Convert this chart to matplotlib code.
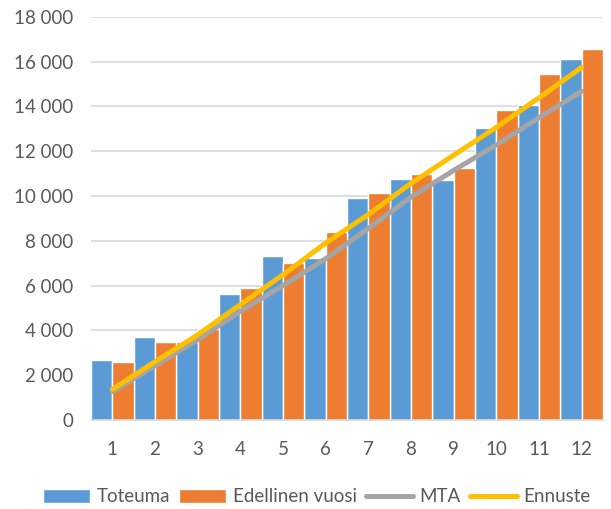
import numpy as np
import matplotlib
matplotlib.use("Agg")
from matplotlib import pyplot as plt
from matplotlib.ticker import FuncFormatter

months = [1, 2, 3, 4, 5, 6, 7, 8, 9, 10, 11, 12]
toteuma = [2670, 3710, 3490, 5640, 7320, 7250, 9890, 10770, 10700, 13040, 14070, 16090]
edellinen = [2590, 3480, 4050, 5880, 7010, 8380, 10150, 10960, 11260, 13850, 15450, 16560]
mta = [1260, 2420, 3580, 4850, 6000, 7200, 8550, 9950, 11140, 12280, 13490, 14670]
ennuste = [1370, 2600, 3800, 5150, 6480, 7900, 9170, 10560, 11820, 13060, 14380, 15740]
yticks = [0, 2000, 4000, 6000, 8000, 10000, 12000, 14000, 16000, 18000]

plt.rcParams['font.family'] = ['Lato', 'DejaVu Sans']
text_color = '#595959'
grid_color = '#d9d9d9'

fig = plt.figure(figsize=(6.11, 5.09), dpi=100)
ax = fig.add_axes([91 / 611, 89 / 509, 512 / 611, 403.3 / 509])

x = np.array(months)
w = 0.5
b1 = ax.bar(x - w / 2, toteuma, width=w, color='#5B9BD5', edgecolor='white', linewidth=1, label='Toteuma', zorder=2)
b2 = ax.bar(x + w / 2, edellinen, width=w, color='#ED7D31', edgecolor='white', linewidth=1, label='Edellinen vuosi', zorder=2)
l1, = ax.plot(x, mta, color='#A5A5A5', linewidth=3.6, label='MTA', zorder=3, solid_capstyle='round')
l2, = ax.plot(x, ennuste, color='#FFC000', linewidth=3.6, label='Ennuste', zorder=4, solid_capstyle='round')

ax.set_xlim(0.5, 12.5)
ax.set_ylim(0, 18000)
ax.set_xticks(months)
ax.set_yticks(yticks)
ax.yaxis.set_major_formatter(FuncFormatter(lambda v, p: f"{int(v):,}".replace(",", " ")))
ax.tick_params(axis='both', length=0, labelsize=13.5, colors=text_color)
ax.tick_params(axis='x', pad=15)
ax.tick_params(axis='y', pad=13)
ax.grid(axis='y', color=grid_color, linewidth=1.2, zorder=0)
ax.set_axisbelow(True)
for s in ['top', 'right', 'left']:
    ax.spines[s].set_visible(False)
ax.spines['bottom'].set_color(grid_color)
ax.spines['bottom'].set_linewidth(1.2)

leg = fig.legend([b1, b2, l1, l2], ['Toteuma', 'Edellinen vuosi', 'MTA', 'Ennuste'],
                 loc='center', bbox_to_anchor=(317 / 611, 1 - 497 / 509), ncol=4, frameon=False,
                 fontsize=13.5, handlelength=2.5, handletextpad=0.35, columnspacing=0.5,
                 labelcolor=text_color)

fig.savefig('out.png', dpi=100)
